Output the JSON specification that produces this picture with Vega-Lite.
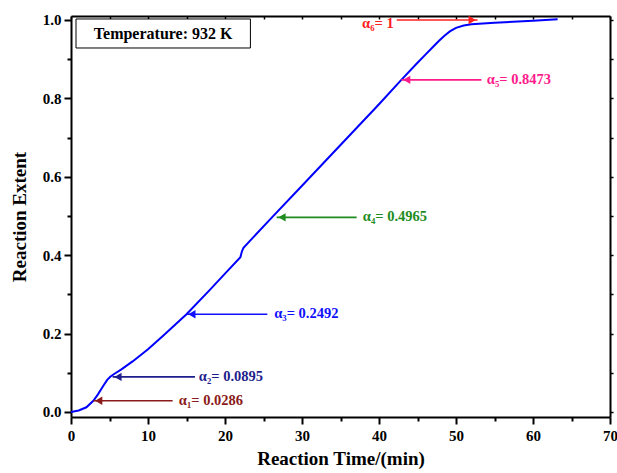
{
  "$schema": "https://vega.github.io/schema/vega-lite/v6.json",
  "width": 539,
  "height": 401,
  "autosize": "none",
  "padding": {"left": 71, "top": 16, "right": 7, "bottom": 56},
  "config": {
    "view": {"stroke": null},
    "font": "Liberation Serif",
    "axis": {"labelFont": "Liberation Serif", "titleFont": "Liberation Serif", "labelFontWeight": "bold", "titleFontWeight": "bold", "labelColor": "black", "titleColor": "black", "domainColor": "black", "tickColor": "black", "grid": false}
  },
  "datasets": {
    "curve": [
      {"t": 0, "a": 0}, {"t": 1, "a": 0.004}, {"t": 2, "a": 0.012}, {"t": 2.9, "a": 0.0286},
      {"t": 3.5, "a": 0.045}, {"t": 4.2, "a": 0.067}, {"t": 4.7, "a": 0.082}, {"t": 5.1, "a": 0.09},
      {"t": 5.6, "a": 0.097}, {"t": 6.5, "a": 0.108}, {"t": 8, "a": 0.129}, {"t": 10, "a": 0.16},
      {"t": 12, "a": 0.195}, {"t": 15, "a": 0.2492}, {"t": 18, "a": 0.311}, {"t": 20, "a": 0.353},
      {"t": 22, "a": 0.395}, {"t": 22.2, "a": 0.41}, {"t": 22.4, "a": 0.419},
      {"t": 26.1, "a": 0.4965}, {"t": 30, "a": 0.577}, {"t": 35, "a": 0.681}, {"t": 40, "a": 0.785},
      {"t": 42.9, "a": 0.8473}, {"t": 45, "a": 0.891}, {"t": 46, "a": 0.911}, {"t": 47, "a": 0.931},
      {"t": 47.8, "a": 0.947}, {"t": 48.5, "a": 0.960}, {"t": 49.2, "a": 0.971}, {"t": 50, "a": 0.980},
      {"t": 51, "a": 0.986}, {"t": 52, "a": 0.989},
      {"t": 55, "a": 0.993}, {"t": 60, "a": 0.998}, {"t": 63.2, "a": 1.002}
    ],
    "arrows": [
      {"name": "a1", "label": "α₁= 0.0286", "tip": 2.9, "tail": 13.2, "head": 3.6, "shape": "triangle-left", "y": 0.0286, "ly": 0.0286, "lx": 14.0, "align": "left"},
      {"name": "a2", "label": "α₂= 0.0895", "tip": 5.4, "tail": 16.1, "head": 6.1, "shape": "triangle-left", "y": 0.0895, "ly": 0.0895, "lx": 16.6, "align": "left"},
      {"name": "a3", "label": "α₃= 0.2492", "tip": 15.0, "tail": 25.5, "head": 15.7, "shape": "triangle-left", "y": 0.2492, "ly": 0.2492, "lx": 26.4, "align": "left"},
      {"name": "a4", "label": "α₄= 0.4965", "tip": 26.7, "tail": 37.1, "head": 27.4, "shape": "triangle-left", "y": 0.4965, "ly": 0.4965, "lx": 37.9, "align": "left"},
      {"name": "a5", "label": "α₅= 0.8473", "tip": 42.9, "tail": 53.3, "head": 43.6, "shape": "triangle-left", "y": 0.8473, "ly": 0.8473, "lx": 54.0, "align": "left"},
      {"name": "a6", "label": "α₆= 1", "tip": 52.8, "tail": 42.3, "head": 52.1, "shape": "triangle-right", "y": 1.0, "ly": 0.99, "lx": 41.9, "align": "right"}
    ],
    "box": [{"x1": 0.65, "x2": 23.3, "y1": 0.9286, "y2": 1.0026, "cx": 11.97, "cy": 0.965, "label": "Temperature: 932 K"}]
  },
  "resolve": {"axis": {"x": "independent", "y": "independent"}},
  "layer": [
    {
      "data": {"name": "curve"},
      "mark": {"type": "line", "color": "#0000ff", "strokeWidth": 2},
      "encoding": {
        "x": {"field": "t", "type": "quantitative", "scale": {"domain": [0, 70], "nice": false, "zero": false},
              "axis": {"values": [0, 10, 20, 30, 40, 50, 60, 70], "orient": "bottom", "title": "Reaction Time/(min)", "titleFontSize": 19, "labelFontSize": 15, "tickSize": 7, "tickWidth": 2, "domainWidth": 2, "labelPadding": 4, "titlePadding": 6, "labelFlush": false}},
        "y": {"field": "a", "type": "quantitative", "scale": {"domain": [-0.0128, 1.0102], "nice": false, "zero": false},
              "axis": {"values": [0, 0.2, 0.4, 0.6, 0.8, 1.0], "format": ".1f", "orient": "left", "title": "Reaction Extent", "titleFontSize": 19, "labelFontSize": 15, "tickSize": 7, "tickWidth": 2, "domainWidth": 2, "labelPadding": 3, "titlePadding": 13, "labelFlush": false}}
      }
    },
    {
      "data": {"name": "box"},
      "mark": {"type": "rect", "fill": "white", "stroke": "black", "strokeWidth": 1},
      "encoding": {
        "x": {"field": "x1", "type": "quantitative", "axis": {"values": [5, 15, 25, 35, 45, 55, 65], "orient": "bottom", "labels": false, "domain": false, "title": null, "tickSize": 4, "tickWidth": 2}},
        "x2": {"field": "x2"},
        "y": {"field": "y1", "type": "quantitative", "axis": {"values": [0.1, 0.3, 0.5, 0.7, 0.9], "orient": "left", "labels": false, "domain": false, "title": null, "tickSize": 4, "tickWidth": 2}},
        "y2": {"field": "y2"}
      }
    },
    {
      "data": {"name": "box"},
      "mark": {"type": "text", "fontSize": 16, "fontWeight": "bold", "font": "Liberation Serif", "color": "black", "align": "center", "baseline": "middle"},
      "encoding": {
        "x": {"field": "cx", "type": "quantitative", "axis": {"values": [0, 5, 10, 15, 20, 25, 30, 35, 40, 45, 50, 55, 60, 65, 70], "orient": "top", "labels": false, "title": null, "tickSize": -3, "tickWidth": 1.5, "domainWidth": 2}},
        "y": {"field": "cy", "type": "quantitative", "axis": {"values": [0, 0.1, 0.2, 0.3, 0.4, 0.5, 0.6, 0.7, 0.8, 0.9, 1.0], "orient": "right", "labels": false, "title": null, "tickSize": 3, "tickWidth": 1.5, "domainWidth": 2}},
        "text": {"field": "label"}
      }
    },
    {
      "data": {"name": "arrows"},
      "mark": {"type": "rule", "strokeWidth": 1.6},
      "encoding": {
        "x": {"field": "tip", "type": "quantitative", "axis": null},
        "x2": {"field": "tail"},
        "y": {"field": "y", "type": "quantitative", "axis": null},
        "color": {"field": "name", "type": "nominal", "legend": null,
                  "scale": {"domain": ["a1", "a2", "a3", "a4", "a5", "a6"], "range": ["#8b1a1a", "#1e1e8c", "#1010ff", "#1e8c1e", "#ff1a8c", "#ff2020"]}}
      }
    },
    {
      "data": {"name": "arrows"},
      "mark": {"type": "point", "filled": true, "size": 70, "opacity": 1},
      "encoding": {
        "x": {"field": "head", "type": "quantitative", "axis": null},
        "y": {"field": "y", "type": "quantitative", "axis": null},
        "shape": {"field": "shape", "type": "nominal", "legend": null, "scale": {"domain": ["triangle-left", "triangle-right"], "range": ["triangle-left", "triangle-right"]}},
        "color": {"field": "name", "type": "nominal", "legend": null}
      }
    },
    {
      "data": {"name": "arrows"},
      "transform": [{"filter": "datum.align == 'left'"}],
      "mark": {"type": "text", "fontSize": 14.5, "fontWeight": "bold", "font": "Liberation Serif", "align": "left", "baseline": "middle"},
      "encoding": {
        "x": {"field": "lx", "type": "quantitative", "axis": null},
        "y": {"field": "ly", "type": "quantitative", "axis": null},
        "text": {"field": "label"},
        "color": {"field": "name", "type": "nominal", "legend": null}
      }
    },
    {
      "data": {"name": "arrows"},
      "transform": [{"filter": "datum.align == 'right'"}],
      "mark": {"type": "text", "fontSize": 14.5, "fontWeight": "bold", "font": "Liberation Serif", "align": "right", "baseline": "middle"},
      "encoding": {
        "x": {"field": "lx", "type": "quantitative", "axis": null},
        "y": {"field": "ly", "type": "quantitative", "axis": null},
        "text": {"field": "label"},
        "color": {"field": "name", "type": "nominal", "legend": null}
      }
    }
  ]
}
